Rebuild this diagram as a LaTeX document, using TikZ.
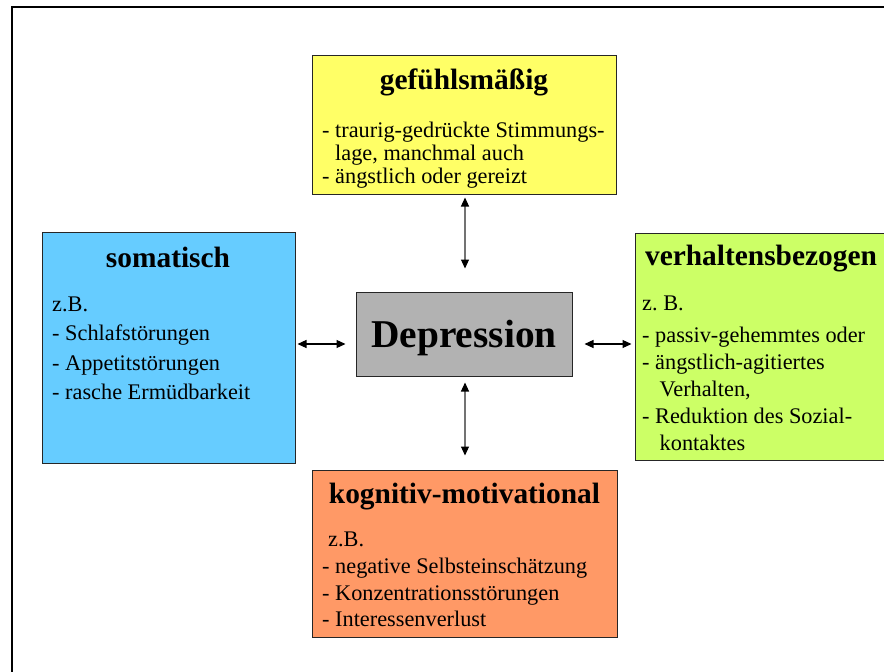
\documentclass[tikz,border=0pt]{standalone}
\usepackage{fontspec}
\setmainfont{Liberation Serif}
\usetikzlibrary{arrows.meta}
\definecolor{cyel}{HTML}{FFFF66}
\definecolor{cblu}{HTML}{66CCFF}
\definecolor{cgrn}{HTML}{CCFF66}
\definecolor{corg}{HTML}{FF9966}
\definecolor{cgry}{HTML}{B2B2B2}
\frenchspacing
\begin{document}
\begin{tikzpicture}[x=1pt,y=-1pt,
  box/.style={draw=black!85,line width=1pt,inner sep=0pt,rectangle},
  body/.style={anchor=base west,inner sep=0pt,font=\fontsize{22.3}{26}\selectfont},
  ttl/.style={anchor=base,inner sep=0pt,font=\fontsize{29.4}{34}\selectfont\bfseries},
  harr/.style={{Triangle[length=9pt,width=8pt]}-{Triangle[length=9pt,width=8pt]},line width=1.1pt,black},
  varr/.style={{Triangle[length=9pt,width=8pt,black]}-{Triangle[length=9pt,width=8pt,black]},line width=1.1pt,draw=black!55}]
\path[use as bounding box,clip] (0,0) rectangle (884,672);
\fill[white] (0,0) rectangle (884,672);
% outer frame (cut off on right and bottom)
\draw[line width=2.5pt] (12,690) -- (12,7) -- (900,7);

% boxes
\node[box,fill=cyel,minimum width=304pt,minimum height=139pt] (gef) at (464,124.5) {};
\node[box,fill=cblu,minimum width=253pt,minimum height=231pt] (som) at (168.5,347.5) {};
\node[box,fill=cgrn,minimum width=265pt,minimum height=227pt] (ver) at (767.5,346.5) {};
\node[box,fill=corg,minimum width=305pt,minimum height=167pt] (kog) at (464.5,553.5) {};
\node[box,fill=cgry,minimum width=216pt,minimum height=84pt,text depth=0pt,font=\fontsize{39.4}{44}\selectfont\bfseries] (dep) at (464,334) {Depression};

% gefuehlsmaessig
\node[ttl] (gt) at (464,89) {gefühlsmäßig};
\node[body] (g1) at (322,137) {- traurig-gedrückte Stimmungs-};
\node[body] (g2) at (335,160) {lage, manchmal auch};
\node[body] (g3) at (322,183) {- ängstlich oder gereizt};

% somatisch
\node[ttl] (st) at (168,267) {somatisch};
\node[body] (s0) at (52,311) {z.B.};
\node[body] (s1) at (52,340) {- Schlafstörungen};
\node[body] (s2) at (52,370) {- Appetitstörungen};
\node[body] (s3) at (52,399) {- rasche Ermüdbarkeit};

% verhaltensbezogen
\node[ttl] (vt) at (761,265) {verhaltensbezogen};
\node[body] (v0) at (642,310.5) {z. B.};
\node[body] (v1) at (642,342.7) {- passiv-gehemmtes oder};
\node[body] (v2) at (642,369.3) {- ängstlich-agitiertes};
\node[body] (v3) at (659.5,396.5) {Verhalten,};
\node[body] (v4) at (642,423.3) {- Reduktion des Sozial-};
\node[body] (v5) at (659.5,450) {kontaktes};

% kognitiv-motivational
\node[ttl] (kt) at (464.5,503) {kognitiv-motivational};
\node[body] (k0) at (328,546) {z.B.};
\node[body] (k1) at (322,573) {- negative Selbsteinschätzung};
\node[body] (k2) at (322,600) {- Konzentrationsstörungen};
\node[body] (k3) at (322,626) {- Interessenverlust};

% connectors
\coordinate (ta) at ([xshift=1pt]gef.south);
\coordinate (ba) at ([xshift=1pt]dep.south);
\draw[varr,shorten <=3pt,shorten >=23pt] (ta) -- (ta |- dep.north);
\draw[varr,shorten <=6pt,shorten >=14pt] (ba) -- (ba |- kog.north);
\coordinate (la) at ([yshift=-10pt]dep.west);
\coordinate (ra) at ([yshift=-10pt]dep.east);
\draw[harr,shorten <=2pt,shorten >=10pt] (som.east |- la) -- (la);
\draw[harr,shorten <=12pt,shorten >=3pt] (ra) -- (ver.west |- ra);
\end{tikzpicture}
\end{document}
